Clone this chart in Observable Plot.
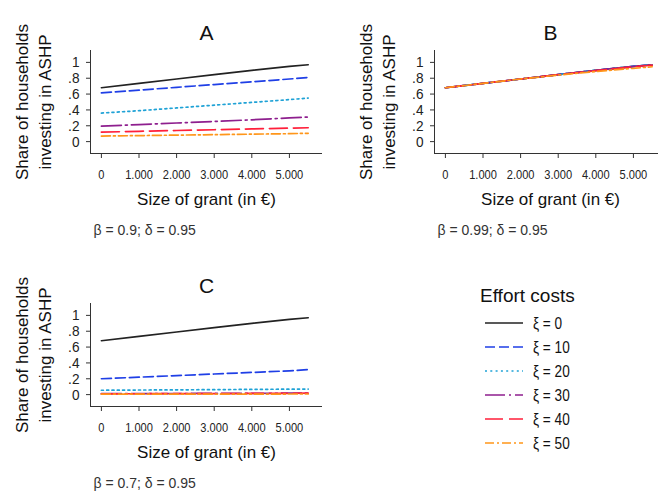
<!DOCTYPE html>
<html>
<head>
<meta charset="utf-8">
<script src="https://cdn.jsdelivr.net/npm/d3@7"></script>
<script src="https://cdn.jsdelivr.net/npm/@observablehq/plot@0.6"></script>
<style>
  html, body { margin: 0; padding: 0; background: #fff; }
  #root { position: relative; width: 658px; height: 491px; overflow: hidden; background: #fff; }
  #root > svg { position: absolute; overflow: visible; }
</style>
</head>
<body>
<div id="root"></div>
<script>
// ---------- data ----------
const grants = [0, 1000, 2000, 3000, 4000, 5000, 5500];
const seriesNames = ["ξ = 0", "ξ = 10", "ξ = 20", "ξ = 30", "ξ = 40", "ξ = 50"];
const seriesColors = ["#222222", "#1f3fe6", "#1fa2d6", "#8e1f8e", "#ff1f3a", "#ff961a"];
const seriesDashes = [null, "10,4", "2,3.3", "20,4,2,4", "18,6", "9,3,2,3"];

const panelA = [
  [0.68, 0.735, 0.79, 0.845, 0.90, 0.95, 0.97],
  [0.615, 0.65, 0.685, 0.72, 0.755, 0.79, 0.81],
  [0.36, 0.39, 0.425, 0.46, 0.495, 0.53, 0.55],
  [0.195, 0.215, 0.235, 0.255, 0.275, 0.30, 0.31],
  [0.12, 0.13, 0.14, 0.15, 0.16, 0.17, 0.175],
  [0.07, 0.076, 0.082, 0.088, 0.094, 0.10, 0.105]
];
const panelB = [
  [0.68, 0.735, 0.79, 0.845, 0.90, 0.95, 0.97],
  [0.68, 0.735, 0.79, 0.845, 0.90, 0.95, 0.97],
  [0.68, 0.735, 0.79, 0.845, 0.90, 0.95, 0.97],
  [0.68, 0.735, 0.79, 0.845, 0.90, 0.948, 0.968],
  [0.68, 0.735, 0.79, 0.845, 0.895, 0.945, 0.965],
  [0.68, 0.735, 0.79, 0.84, 0.885, 0.925, 0.945]
];
const panelC = [
  [0.68, 0.735, 0.79, 0.845, 0.90, 0.95, 0.97],
  [0.20, 0.22, 0.24, 0.26, 0.28, 0.30, 0.315],
  [0.055, 0.058, 0.06, 0.063, 0.066, 0.069, 0.07],
  [0.012, 0.013, 0.014, 0.015, 0.016, 0.018, 0.02],
  [0.01, 0.011, 0.012, 0.013, 0.015, 0.017, 0.018],
  [0.005, 0.0055, 0.006, 0.0065, 0.007, 0.0075, 0.008]
];

const xTicks = [0, 1000, 2000, 3000, 4000, 5000];
const xTickLabels = ["0", "1.000", "2.000", "3.000", "4.000", "5.000"];
const yTicks = [0, 0.2, 0.4, 0.6, 0.8, 1];
const yTickLabels = ["0", ".2", ".4", ".6", ".8", "1"];

const xTitle = "Size of grant (in €)";
const yTitle = "Share of households\ninvesting in ASHP";
const legendTitle = "Effort costs";

const panels = [
  {title: "A", note: "β = 0.9; δ = 0.95", data: panelA, left: 0, top: 0},
  {title: "B", note: "β = 0.99; δ = 0.95", data: panelB, left: 344, top: 0},
  {title: "C", note: "β = 0.7; δ = 0.95", data: panelC, left: 0, top: 253}
];

// ---------- drawing ----------
const xDomain = [-290, 5880];
const yDomain = [-0.15, 1.15];
const regular = "'Liberation Sans', Arial, sans-serif";

// is a real narrow face available?
function measure(font) {
  const c = document.createElement("canvas").getContext("2d");
  c.font = font;
  return c.measureText("1.000 2.000 abcdefgh").width;
}
const hasNarrow = measure("16px 'Liberation Sans Narrow', monospace") !== measure("16px monospace");
const narrow = hasNarrow ? "'Liberation Sans Narrow', 'Liberation Sans', sans-serif" : regular;
function squeeze(nodes, ratio) {
  if (hasNarrow) return;
  nodes.forEach(t => {
    const w = t.getComputedTextLength();
    if (w > 0) {
      t.setAttribute("textLength", (w * ratio).toFixed(2));
      t.setAttribute("lengthAdjust", "spacingAndGlyphs");
    }
  });
}

const root = document.getElementById("root");

for (const p of panels) {
  const lineMarks = p.data.map((vals, k) =>
    Plot.line(grants.map((g, i) => ({g, v: vals[i]})), {
      x: "g", y: "v", stroke: seriesColors[k], strokeWidth: 1.7,
      strokeDasharray: seriesDashes[k] ?? undefined, curve: "linear"
    })
  );
  const chart = Plot.plot({
    width: 330, height: 240,
    marginLeft: 90, marginRight: 8, marginTop: 50, marginBottom: 87,
    style: {fontFamily: narrow, fontSize: "13.5px", color: "#222", background: "transparent", overflow: "visible"},
    x: {domain: xDomain},
    y: {domain: yDomain},
    marks: [
      Plot.ruleX([xDomain[0]], {stroke: "#333", strokeWidth: 1}),
      Plot.ruleY([yDomain[0]], {stroke: "#333", strokeWidth: 1}),
      Plot.axisX({ticks: xTicks, tickFormat: d => xTickLabels[xTicks.indexOf(d)], tickSize: 5, tickPadding: 11, label: null, stroke: "#333", fill: "#222"}),
      Plot.axisY({ticks: yTicks, tickFormat: d => yTickLabels[yTicks.indexOf(d)], tickSize: 4, tickPadding: 7, label: null, stroke: "#333", fill: "#222", fontSize: 15.5}),
      ...lineMarks,
      Plot.text([p.title], {frameAnchor: "top", lineAnchor: "middle", dy: -17, fontSize: 21, fontFamily: regular, fill: "#111"}),
      Plot.text([xTitle], {frameAnchor: "bottom", lineAnchor: "middle", dy: 46, fontSize: 17, fontFamily: regular, fill: "#111"}),
      Plot.text([yTitle], {frameAnchor: "left", textAnchor: "middle", lineAnchor: "middle", rotate: -90, dx: -58.5, fontSize: 17, lineHeight: 1.35, fontFamily: regular, fill: "#111"}),
      Plot.text([p.note], {frameAnchor: "bottom-left", textAnchor: "start", lineAnchor: "middle", dx: 3, dy: 77, fontSize: 14, fontFamily: narrow, fill: "#333", ariaLabel: "note"})
    ]
  });
  chart.style.left = p.left + "px";
  chart.style.top = p.top + "px";
  root.appendChild(chart);
  squeeze(chart.querySelectorAll('g[aria-label="x-axis tick label"] text, g[aria-label="note"] text'), 0.82);
  squeeze(chart.querySelectorAll('g[aria-label="y-axis tick label"] text'), 0.88);
}

// legend
const leg = d3.create("svg").attr("width", 200).attr("height", 190)
  .style("left", "470px").style("top", "275px");
leg.append("text").attr("x", 10).attr("y", 20).attr("dy", "0.35em")
  .attr("font-family", regular).attr("font-size", 19).attr("fill", "#111").text(legendTitle);
const legTexts = [];
seriesNames.forEach((name, k) => {
  const y = 48 + k * 24;
  const ln = leg.append("line").attr("x1", 15).attr("x2", 53).attr("y1", y).attr("y2", y)
    .attr("stroke", seriesColors[k]).attr("stroke-width", 1.7);
  if (seriesDashes[k]) ln.attr("stroke-dasharray", seriesDashes[k]);
  legTexts.push(leg.append("text").attr("x", 63).attr("y", y).attr("dy", "0.35em")
    .attr("font-family", narrow).attr("font-size", 16).attr("fill", "#111").text(name).node());
});
root.appendChild(leg.node());
squeeze(legTexts, 0.85);
</script>
</body>
</html>
